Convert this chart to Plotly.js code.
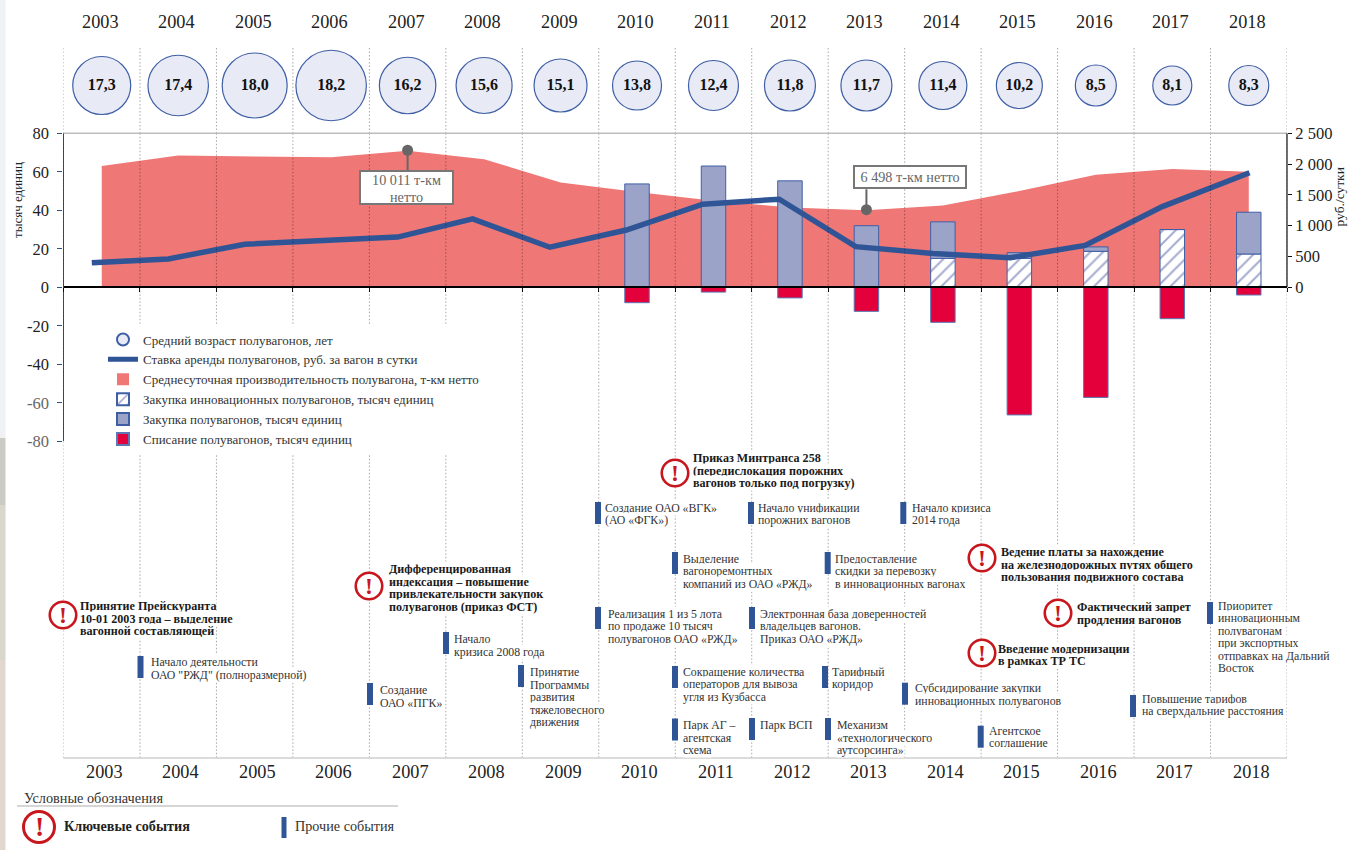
<!DOCTYPE html>
<html><head><meta charset="utf-8">
<script src="https://cdn.plot.ly/plotly-3.0.1.min.js"></script>
<style>html,body{margin:0;padding:0;background:#fff}#c{width:1348px;height:850px}</style></head>
<body><div id="c"></div>
<script>
const years=[2003,2004,2005,2006,2007,2008,2009,2010,2011,2012,2013,2014,2015,2016,2017,2018];
const ageValues=[17.3,17.4,18.0,18.2,16.2,15.6,15.1,13.8,12.4,11.8,11.7,11.4,10.2,8.5,8.1,8.3];
const ageBubblePx=[58,60.5,65,70.5,56.5,56,53,49,50,51,51,48,46,41,39,40];
const rentYears=[2002.87,2003.87,2004.87,2005.87,2006.87,2007.85,2008.86,2009.86,2010.86,2011.86,2012.86,2013.87,2014.88,2015.86,2016.87,2018.01];
const rentRub=[400,460,700,750,815,1110,650,930,1350,1430,660,550,480,680,1310,1860];
const productivity=[63,68.5,68,67.5,71,66.5,54.5,49.5,45,41.5,40,42.5,50,58.5,61.5,60];
const barYears=[2010,2011,2012,2013,2014,2015,2016,2017,2018];
const innovative=[0,0,0,0,15,15,18.7,30,17.3];
const purchasesOther=[53.7,63,55.3,32,19,3,2.3,0,21.7];
const writeOff=[-8,-2.5,-5.5,-12.5,-18.2,-66.3,-57.2,-16.3,-4];
const leftTickVals=[-80,-60,-40,-20,0,20,40,60,80];
const rightTickVals=[0,500,1000,1500,2000,2500];
const rightTickText=['0','500','1 000','1 500','2 000','2 500'];
const names={age:'Средний возраст полувагонов, лет',rent:'Ставка аренды полувагонов, руб. за вагон в сутки',prod:'Среднесуточная производительность полувагона, т-км нетто',inn:'Закупка инновационных полувагонов, тысяч единиц',buy:'Закупка полувагонов, тысяч единиц',off:'Списание полувагонов, тысяч единиц'};
const keyEvents=[
 {c:[63,615],tx:79,ty:606,lines:['Принятие Прейскуранта','10-01 2003 года – выделение','вагонной составляющей']},
 {c:[369,586],tx:388,ty:569,lines:['Дифференцированная','индексация – повышение','привлекательности закупок','полувагонов (приказ ФСТ)']},
 {c:[675,473],tx:692,ty:458,lines:['Приказ Минтранса 258','(передислокация порожних','вагонов только под погрузку)']},
 {c:[982,558],tx:1000,ty:552,lines:['Ведение платы за нахождение','на железнодорожных путях общего','пользования подвижного состава']},
 {c:[1058,613],tx:1076,ty:607,lines:['Фактический запрет','продления вагонов']},
 {c:[982,653],tx:997,ty:648.5,lines:['Введение модернизации','в рамках ТР ТС']}
];
const otherEvents=[
 {b:[140.5,656],tx:150,ty:662,lines:['Начало деятельности','ОАО "РЖД" (полноразмерной)']},
 {b:[370,683],tx:379,ty:690,lines:['Создание','ОАО «ПГК»']},
 {b:[446,632],tx:453,ty:639,lines:['Начало','кризиса 2008 года']},
 {b:[521,665],tx:529,ty:672,lines:['Принятие','Программы','развития','тяжеловесного','движения']},
 {b:[598,502],tx:604,ty:507.5,lines:['Создание ОАО «ВГК»','(АО «ФГК»)']},
 {b:[675,552],tx:682,ty:558.5,lines:['Выделение','вагоноремонтных','компаний из ОАО «РЖД»']},
 {b:[598,607],tx:606.5,ty:613.5,lines:['Реализация 1 из 5 лота','по продаже 10 тысяч','полувагонов ОАО «РЖД»']},
 {b:[675,666],tx:682,ty:671.5,lines:['Сокращение количества','операторов для вывоза','угля из Кузбасса']},
 {b:[675,718.5],tx:682,ty:725,lines:['Парк АГ –','агентская','схема']},
 {b:[751,502],tx:757,ty:507.5,lines:['Начало унификации','порожних вагонов']},
 {b:[752,607],tx:759,ty:613.5,lines:['Электронная база доверенностей','владельцев вагонов.','Приказ ОАО «РЖД»']},
 {b:[752,718],tx:759,ty:725,lines:['Парк ВСП']},
 {b:[827.7,552],tx:834,ty:558.5,lines:['Предоставление','скидки за перевозку','в инновационных вагонах']},
 {b:[825,666],tx:831,ty:671.5,lines:['Тарифный','коридор']},
 {b:[828,718],tx:836,ty:725,lines:['Механизм','«технологического','аутсорсинга»']},
 {b:[903.3,502],tx:910.5,ty:507.5,lines:['Начало кризиса','2014 года']},
 {b:[905,682.7],tx:914,ty:688,lines:['Субсидирование закупки','инновационных полувагонов']},
 {b:[980.7,725.7],tx:988,ty:730.5,lines:['Агентское','соглашение']},
 {b:[1133,695],tx:1141,ty:698.5,lines:['Повышение тарифов','на сверхдальние расстояния']},
 {b:[1210,602],tx:1217,ty:605.5,lines:['Приоритет','инновационным','полувагонам','при экспортных','отправках на Дальний','Восток']}
];

const W=1348,H=850,FONT='"Liberation Serif",serif';
const px=v=>v/W, py=v=>1-v/H;
const L=63.5,R=1287,T=133.3,Z=287.3,B=441.3;
const pct=(a,b)=>[py(b),py(a)];
const BLUE='#2F5597',EDGE='#3F5FA5',RED='#C8161D',DARK='#222',AREA='#EF7775';
const fmt=v=>v.toFixed(1).replace('.',',');

const shapes=[],ann=[];
function line(x0,y0,x1,y1,color,w,dash){shapes.push({type:'line',xref:'paper',yref:'paper',x0:px(x0),x1:px(x1),y0:py(y0),y1:py(y1),line:{color,width:w,dash:dash||'solid'}});}
function rect(x0,y0,x1,y1,color){shapes.push({type:'rect',xref:'paper',yref:'paper',x0:px(x0),x1:px(x1),y0:py(y0),y1:py(y1),fillcolor:color,line:{width:0}});}
function label(x,y,text,size,opt){ann.push(Object.assign({xref:'paper',yref:'paper',x:px(x),y:py(y),text,showarrow:false,xanchor:'left',yanchor:'middle',font:{family:FONT,size,color:DARK},borderpad:0},opt||{}));}
function icon(cx,cy,d){
 shapes.push({type:'circle',xref:'paper',yref:'paper',x0:px(cx-d/2),x1:px(cx+d/2),y0:py(cy-d/2),y1:py(cy+d/2),fillcolor:'#fff',line:{color:RED,width:d>28?3:2.6}});
 label(cx,cy-0.5,'<b>!</b>',d*0.9,{xanchor:'center',font:{family:FONT,size:d*0.9,color:RED}});
}
// left paper strip
rect(0,0,5.5,438,'#F0F1F3');rect(0,438,5.5,505,'#CBCBC6');rect(0,505,5.5,660,'#D9D6CB');rect(0,660,5.5,850,'#E0D8CF');
// vertical dotted separators between years
const DOT='1.5px,2px';
for(let i=0;i<=16;i++){
 shapes.push({type:'line',layer:'below',xref:'x',yref:'paper',x0:2002.5+i,x1:2002.5+i,y0:py(48),y1:py(T),line:{color:'rgba(0,0,0,0.35)',width:1,dash:DOT}});
 shapes.push({type:'line',xref:'x',yref:'paper',x0:2002.5+i,x1:2002.5+i,y0:py(T),y1:py(758),line:{color:'rgba(0,0,0,0.35)',width:1,dash:DOT}});
}
line(L,T,R,T,'#bdbdbd',1.5);
line(L,758,R,758,'#cfcfcf',1.5);
line(17,806,398,806,'#c9c9c9',1.3);
shapes.push({type:'line',xref:'paper',yref:'y3',x0:px(R),x1:px(R),y0:0,y1:2500,line:{color:'#111',width:1.2}});
// callout stems
shapes.push({type:'line',xref:'x',yref:'y',x0:2007,x1:2007,y0:71,y1:61,line:{color:'#666',width:2}});
shapes.push({type:'line',xref:'x',yref:'y',x0:2013,x1:2013,y0:40,y1:51,line:{color:'#666',width:2}});
ann.push({xref:'paper',yref:'paper',x:px(406.5),y:py(187.5),text:'10 011 т-км',showarrow:false,font:{family:FONT,size:14.2,color:'#666'},bgcolor:'#fff',bordercolor:'#777',borderwidth:2,width:91,height:31,align:'center',yanchor:'middle',xanchor:'center',valign:'top',borderpad:0});
label(406.5,197,'нетто',14.2,{xanchor:'center',font:{family:FONT,size:14.2,color:'#666'}});
ann.push({xref:'paper',yref:'paper',x:px(910),y:py(177),text:'6 498 т-км нетто',showarrow:false,font:{family:FONT,size:14.2,color:'#666'},bgcolor:'#fff',bordercolor:'#777',borderwidth:2,width:110,height:20,yanchor:'middle',xanchor:'center',borderpad:0});
// year rows
years.forEach(y=>{
 ann.push({xref:'x',yref:'paper',x:y,xshift:-1.5,y:py(22),text:String(y),showarrow:false,yanchor:'middle',font:{family:FONT,size:18.3,color:DARK}});
 ann.push({xref:'x',yref:'paper',x:y,xshift:2.5,y:py(772),text:String(y),showarrow:false,yanchor:'middle',font:{family:FONT,size:18.3,color:DARK}});
});
// timeline events
otherEvents.forEach(e=>{
 rect(e.b[0]-3,e.b[1],e.b[0]+3,e.b[1]+22,BLUE);
 e.lines.forEach((t,i)=>label(e.tx,e.ty+i*12.5,t,11.8,{bgcolor:'#fff',font:{family:FONT,size:11.8,color:'#333'}}));
});
keyEvents.forEach(e=>{
 icon(e.c[0],e.c[1],26.5);
 e.lines.forEach((t,i)=>label(e.tx,e.ty+i*12.7,'<b>'+t+'</b>',12.1,{bgcolor:'#fff',font:{family:FONT,size:12.1,color:'#1a1a1a'}}));
});
// bottom legend
label(23,797.5,'Условные обозначения',14.3,{font:{family:FONT,size:14.3,color:'#333'}});
icon(39,827,31);
label(63,826,'<b>Ключевые события</b>',14.2);
rect(281.5,817,286.5,838,BLUE);
label(294,826,'Прочие события',14.2,{font:{family:FONT,size:14.2,color:'#333'}});
// axis titles
label(17,200,'тысяч единиц',13,{xanchor:'center',textangle:-90});
label(1339.5,197,'руб./сутки',13.5,{xanchor:'center',textangle:-90});

const leftTickText=leftTickVals.map(v=>v<-40?`<span style="color:#666">${v}</span>`:String(v));
const data=[
 {type:'scatter',name:names.age,x:years,y:years.map(()=>0.5),xaxis:'x',yaxis:'y4',mode:'markers+text',cliponaxis:false,
  marker:{size:ageBubblePx,color:'#E8EAF6',opacity:1,line:{color:EDGE,width:1.2}},text:ageValues.map(v=>'<b>'+fmt(v)+'</b>'),textposition:'middle center',textfont:{family:FONT,size:16,color:'#111'}},
 {type:'scatter',name:names.rent,x:rentYears,y:rentRub,yaxis:'y3',mode:'lines',line:{color:BLUE,width:5.5}},
 {type:'bar',name:names.prod,x:[null],y:[null],yaxis:'y2',marker:{color:AREA}},
 {type:'bar',name:names.inn,x:barYears,y:innovative,yaxis:'y2',width:0.32,marker:{color:'#fff',line:{color:EDGE,width:1},pattern:{shape:'/',fgcolor:'#A5ABD0',bgcolor:'#fff',size:9,solidity:0.22}}},
 {type:'bar',name:names.buy,x:barYears,y:purchasesOther,yaxis:'y2',width:0.32,marker:{color:'#9CA3C9',line:{color:EDGE,width:1}}},
 {type:'bar',name:names.off,x:barYears,y:writeOff,yaxis:'y2',width:0.32,marker:{color:'#E4003A',line:{color:'#5b78b5',width:1}}},
 {type:'scatter',name:names.prod,x:years,y:productivity,yaxis:'y',mode:'none',fill:'tozeroy',fillcolor:AREA,showlegend:false},
 {type:'scatter',x:[2007,2013],y:[71.2,40.3],yaxis:'y2',mode:'markers',marker:{size:11,color:'#666'},showlegend:false}
];
const layout={width:W,height:H,margin:{l:0,r:0,t:0,b:0},paper_bgcolor:'#fff',plot_bgcolor:'rgba(0,0,0,0)',barmode:'relative',showlegend:true,
 font:{family:FONT,color:DARK},
 xaxis:{domain:[px(L),px(R)],range:[2002.5,2018.5],type:'linear',anchor:'free',position:py(Z),showline:true,linecolor:'#000',linewidth:1.5,showgrid:false,zeroline:false,ticks:'outside',ticklen:4,tickcolor:'#111',tickmode:'array',tickvals:[2002.5,2003.5,2004.5,2005.5,2006.5,2007.5,2008.5,2009.5,2010.5,2011.5,2012.5,2013.5,2014.5,2015.5,2016.5,2017.5,2018.5],showticklabels:false},
 yaxis:{domain:pct(T,B),range:[-80,80],tickmode:'array',tickvals:leftTickVals,ticktext:leftTickText,ticks:'outside',ticklen:5,ticklabelstandoff:5,tickcolor:'#2F4F7F',showline:true,linecolor:'#2F4F7F',linewidth:1.2,showgrid:false,zeroline:false,tickfont:{family:FONT,size:16.5,color:DARK}},
 yaxis2:{overlaying:'y',range:[-80,80],visible:false},
 yaxis3:{overlaying:'y',side:'right',range:[-2500,2500],tickmode:'array',tickvals:rightTickVals,ticktext:rightTickText,ticks:'outside',ticklen:4,tickcolor:'#111',showline:false,showgrid:false,zeroline:false,tickfont:{family:FONT,size:16.5,color:DARK}},
 yaxis4:{domain:pct(46,125),range:[0,1],visible:false,anchor:'x'},
 legend:{x:px(103),y:py(324.5),xanchor:'left',yanchor:'top',bgcolor:'#fff',borderwidth:0,traceorder:'normal',tracegroupgap:0,itemwidth:30,itemsizing:'constant',font:{family:FONT,size:13,color:'#333'}},
 shapes,annotations:ann};
Plotly.newPlot('c',data,layout,{displayModeBar:false,responsive:false});
</script></body></html>
